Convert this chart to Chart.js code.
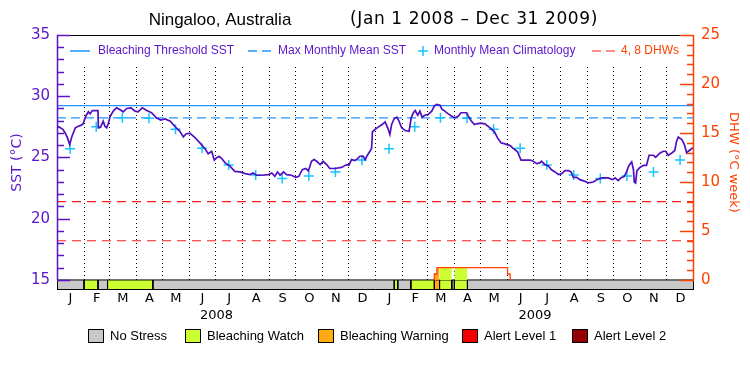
<!DOCTYPE html>
<html>
<head>
<meta charset="utf-8">
<script src="https://cdn.jsdelivr.net/npm/chart.js@4.4.0/dist/chart.umd.min.js"></script>
<style>
  html, body { margin: 0; padding: 0; background: #fff; }
  #wrap { width: 750px; height: 375px; }
</style>
</head>
<body>
<div id="wrap"><canvas id="sstChart" width="750" height="375"></canvas></div>
<script>
// values (x = days since Jan 1 2008)
var monthLetters = ['J', 'F', 'M', 'A', 'M', 'J', 'J', 'A', 'S', 'O', 'N', 'D'];
var monthStarts = [0, 31, 60, 91, 121, 152, 182, 213, 244, 274, 305, 335,
                   366, 397, 425, 456, 486, 517, 547, 578, 609, 639, 670, 700, 731];
var yearLabels = ['2008', '2009'];
var yearMid = [183, 548.5];

var sstDays = [0, 2, 7, 10, 12, 14.5, 17, 21, 24.5, 28, 30, 33, 36, 38, 40.5, 47, 47.5, 50, 53, 55,
  57, 59, 61, 65, 68.5, 72, 76, 80, 85, 89.5, 93, 98, 103, 108.5, 114, 119, 124, 130, 135, 141,
  145, 148, 152.5, 158, 164, 170, 173.5, 177.5, 180.5, 183, 186, 189, 193, 198.5, 204, 210, 216, 221.5, 225, 229,
  235, 242.5, 246.5, 250, 253, 256, 260, 263.5, 269, 274, 277.5, 281.5, 285.5, 288.5, 292, 295, 298, 302, 305.5, 309.5,
  313, 319, 326.5, 332.5, 335, 338, 342, 345, 347.5, 351.5, 353.5, 355.5, 358, 361, 362, 365, 369, 373, 376.5, 379.5,
  382, 384, 387, 390, 392.5, 395.5, 399.5, 404, 406.5, 409, 411, 414, 416.5, 419, 422, 426, 430, 433, 435.5, 439.5,
  441.5, 445, 449, 453, 456.5, 460.5, 463.5, 470, 472, 475, 479, 481.5, 486.5, 491, 497, 502, 505.5, 509.5, 514, 520,
  523.5, 528.5, 532.5, 537, 543, 546.5, 550.5, 554, 556, 560, 564, 567.5, 571.5, 575.5, 579, 583, 587, 590, 592.5, 596.5,
  600, 606, 609.5, 615.5, 619.5, 625, 632.5, 637.5, 640.5, 644, 647, 651, 653.5, 656.5, 659.5, 661.5, 662.5, 664, 665.5, 669,
  673, 676.5, 679.5, 684.5, 687, 692, 696, 698.5, 701.5, 705.5, 709, 711, 713, 717, 720, 722.5, 724.5, 728.5, 730.5];
var sstValues = [27.42, 27.50, 27.28, 26.92, 26.60, 26.06, 26.70, 27.42, 27.55, 27.64, 27.75, 28.37, 28.73, 28.56, 28.83, 28.83, 27.42, 27.47, 27.97, 27.55,
  27.42, 27.80, 28.37, 28.83, 29.05, 28.92, 28.73, 29.00, 29.05, 28.78, 28.73, 29.05, 28.83, 28.65, 28.24, 28.05, 28.15, 27.97, 27.55, 27.14,
  26.68, 26.92, 26.99, 26.65, 26.19, 25.70, 25.30, 25.50, 24.79, 24.97, 25.10, 24.91, 24.56, 24.29, 23.87, 23.82, 23.68, 23.60, 23.73, 23.55,
  23.55, 23.60, 23.73, 23.46, 23.82, 23.55, 23.82, 23.60, 23.55, 23.38, 23.46, 24.00, 24.10, 23.90, 24.69, 24.83, 24.69, 24.42, 24.69, 24.42,
  24.10, 24.10, 24.19, 24.42, 24.37, 24.83, 24.75, 24.91, 25.10, 25.10, 24.83, 25.10, 25.38, 25.73, 27.10, 27.30, 27.50, 27.69, 27.90, 27.42,
  26.87, 27.69, 28.18, 28.29, 27.97, 27.42, 27.20, 27.14, 28.24, 28.65, 28.83, 28.45, 28.78, 28.29, 28.45, 28.51, 28.78, 29.19, 29.33, 29.27,
  28.97, 28.78, 28.56, 28.37, 28.24, 28.37, 28.65, 28.65, 28.37, 28.02, 27.69, 27.75, 27.80, 27.75, 27.42, 27.10, 26.60, 26.20, 26.11, 25.97,
  25.75, 25.47, 24.79, 24.79, 24.79, 24.70, 24.50, 24.56, 24.69, 24.42, 24.29, 24.00, 23.82, 23.60, 23.68, 23.93, 23.93, 23.82, 23.38, 23.38,
  23.19, 23.05, 22.92, 23.00, 23.19, 23.33, 23.33, 23.19, 23.33, 23.11, 23.33, 23.46, 23.82, 24.37, 24.64, 24.00, 22.99, 22.92, 23.93, 24.19,
  24.36, 24.36, 25.18, 25.18, 25.02, 25.37, 25.51, 25.51, 25.18, 25.37, 25.57, 26.33, 26.66, 26.47, 26.06, 25.37, 25.51, 25.73, 25.78];

var climDays = [15, 45, 75, 105.5, 136, 166.5, 197, 228, 258.5, 289, 319.5, 350,
                381, 410.5, 440, 470.5, 501, 531.5, 562, 593, 623.5, 654, 684.5, 715];
var climValues = [25.72, 27.50, 28.24, 28.20, 27.30, 25.75, 24.39, 23.57, 23.29, 23.49, 23.82, 24.80,
                  25.72, 27.50, 28.24, 28.20, 27.30, 25.75, 24.39, 23.57, 23.29, 23.49, 23.82, 24.80];

var bleachingThreshold = 29.24;
var maxMonthlyMean = 28.24;
var dhwLevels = [4, 8];

var stressNames = ['No Stress', 'Bleaching Watch', 'Bleaching Warning', 'Alert Level 1', 'Alert Level 2'];
var stressStart = [0, 31, 47, 58, 110, 387, 391, 406, 433, 439, 453, 456, 471];
var stressEnd   = [31, 47, 58, 110, 387, 391, 406, 433, 439, 453, 456, 471, 731];
var stressLevel = [0, 1, 0, 1, 0, 1, 0, 1, 2, 1, 0, 1, 0];

var dhwDays = [432, 433, 436, 517, 520];
var dhwValues = [0, 0.61, 1.26, 0.61, 0];
var dhwFillStart = [433, 436, 439, 456];
var dhwFillEnd   = [436, 439, 453, 471];
var dhwFillValue = [0.61, 1.26, 1.26, 1.26];
var dhwFillLevel = [2, 2, 1, 1];

// SST 15 sits on DHW 0, SST 35 on DHW 25; the stress bar lives below SST 15
var sstMin = 14.18, sstMax = 35;
var dhwMin = (sstMin - 15) / 0.8, dhwMax = 25;

var stressColors = ['#c8c8c8', '#ccff33', '#ffaa11', '#f00000', '#960000'];
var purple = '#5a14cc';
var dhwColor = '#ff4000';
var blue = '#1e96ff';
var numFont = '"DejaVu Sans", sans-serif';
var txtFont = '"Liberation Sans", Arial, sans-serif';

function pts(xs, ys) {
  return xs.map(function (x, i) { return {x: x, y: ys[i]}; });
}
function flat(v) {
  return [{x: 0, y: v}, {x: 731, y: v}];
}

var datasets = [
  {data: pts(sstDays, sstValues), borderColor: '#5010c0', borderWidth: 1.7, pointRadius: 0, order: 0, yAxisID: 'y'},
  {data: pts(climDays, climValues), showLine: false, pointStyle: 'cross', pointRadius: 5,
   borderColor: '#16c4ff', borderWidth: 1.5, order: 1, yAxisID: 'y'},
  {data: flat(bleachingThreshold), borderColor: blue, borderWidth: 1.3, pointRadius: 0, order: 2, yAxisID: 'y'},
  {data: flat(maxMonthlyMean), borderColor: blue, borderWidth: 1.3, borderDash: [9, 5], pointRadius: 0, order: 2, yAxisID: 'y'}
];
dhwLevels.forEach(function (v) {
  datasets.push({data: flat(v), borderColor: '#ff1a1a', borderWidth: 1.2, borderDash: [9, 6], pointRadius: 0, order: 2, yAxisID: 'y2'});
});
datasets.push({data: pts(dhwDays, dhwValues), stepped: 'before', borderColor: dhwColor, borderWidth: 1.3,
  pointRadius: 0, order: 3, yAxisID: 'y2'});
dhwFillStart.forEach(function (s, i) {
  var e = dhwFillEnd[i], v = dhwFillValue[i];
  datasets.push({data: [{x: s, y: 0}, {x: s, y: v}, {x: e, y: v}, {x: e, y: 0}], borderWidth: 0,
    backgroundColor: stressColors[dhwFillLevel[i]], fill: 'origin', pointRadius: 0, order: 4, yAxisID: 'y2'});
});
stressStart.forEach(function (s, i) {
  var e = stressEnd[i];
  datasets.push({data: [{x: s, y: sstMin}, {x: s, y: 15}, {x: e, y: 15}, {x: e, y: sstMin}],
    borderColor: '#000', borderWidth: 1, backgroundColor: stressColors[stressLevel[i]],
    fill: 'start', pointRadius: 0, order: 5, yAxisID: 'y'});
});

var framePlugin = {
  id: 'frame',
  beforeDatasetsDraw: function (chart) {
    // keep the month grid out of the legend strip
    var ca = chart.chartArea, ctx = chart.ctx;
    ctx.save();
    ctx.fillStyle = '#fff';
    ctx.fillRect(ca.left + 1, ca.top + 1, ca.width - 2, 29);
    ctx.restore();
  },
  afterDraw: function (chart) {
    var ca = chart.chartArea, ctx = chart.ctx;
    var ys = chart.scales.y, y2 = chart.scales.y2;
    var barTop = ys.getPixelForValue(15);
    var v, p, len;
    ctx.save();

    // title
    ctx.fillStyle = '#000';
    ctx.font = '17px ' + txtFont;
    ctx.textAlign = 'center';
    ctx.textBaseline = 'middle';
    ctx.fillText('Ningaloo, Australia', 220, 20);
    ctx.font = '17px ' + numFont;
    ctx.letterSpacing = '0.6px';
    ctx.fillText('(Jan 1 2008 \u2013 Dec 31 2009)', 474, 20);
    ctx.letterSpacing = '0px';

    // box
    ctx.strokeStyle = '#000';
    ctx.lineWidth = 1;
    ctx.beginPath();
    ctx.moveTo(ca.left, ca.top + 0.5); ctx.lineTo(ca.right, ca.top + 0.5);
    ctx.moveTo(ca.left, ca.bottom - 0.5); ctx.lineTo(ca.right, ca.bottom - 0.5);
    ctx.moveTo(ca.left + 0.5, barTop); ctx.lineTo(ca.left + 0.5, ca.bottom);
    ctx.moveTo(ca.right - 0.5, barTop); ctx.lineTo(ca.right - 0.5, ca.bottom);
    ctx.stroke();

    // left SST axis with inward ticks
    ctx.strokeStyle = purple;
    ctx.lineWidth = 1.5;
    ctx.beginPath();
    ctx.moveTo(ca.left + 0.5, ca.top); ctx.lineTo(ca.left + 0.5, barTop);
    for (v = 15; v <= 35; v++) {
      p = Math.round(ys.getPixelForValue(v)) + 0.5;
      len = v % 5 === 0 ? 13 : 7;
      ctx.moveTo(ca.left, p); ctx.lineTo(ca.left + len, p);
    }
    ctx.stroke();

    // right DHW axis
    ctx.strokeStyle = dhwColor;
    ctx.beginPath();
    ctx.moveTo(ca.right - 0.5, ca.top); ctx.lineTo(ca.right - 0.5, barTop);
    for (v = 0; v <= 25; v++) {
      p = Math.round(y2.getPixelForValue(v)) + 0.5;
      len = v % 5 === 0 ? 14 : 7;
      ctx.moveTo(ca.right, p); ctx.lineTo(ca.right - len, p);
    }
    ctx.stroke();

    // top legend
    var ly = ca.top + 16;
    ctx.font = '12px ' + txtFont;
    ctx.textAlign = 'left';
    ctx.textBaseline = 'middle';
    ctx.lineWidth = 1.3;
    ctx.strokeStyle = blue;
    ctx.beginPath();
    ctx.moveTo(70, ly); ctx.lineTo(90, ly);
    ctx.moveTo(248, ly); ctx.lineTo(257, ly);
    ctx.moveTo(262, ly); ctx.lineTo(271, ly);
    ctx.stroke();
    ctx.strokeStyle = '#16c4ff';
    ctx.lineWidth = 1.5;
    ctx.beginPath();
    ctx.moveTo(418, ly); ctx.lineTo(428, ly);
    ctx.moveTo(423, ly - 5); ctx.lineTo(423, ly + 5);
    ctx.stroke();
    ctx.strokeStyle = '#ff1a1a';
    ctx.lineWidth = 1.2;
    ctx.beginPath();
    ctx.moveTo(592, ly); ctx.lineTo(601, ly);
    ctx.moveTo(606, ly); ctx.lineTo(615, ly);
    ctx.stroke();
    ctx.fillStyle = purple;
    ctx.fillText('Bleaching Threshold SST', 98, ly);
    ctx.fillText('Max Monthly Mean SST', 278, ly);
    ctx.fillText('Monthly Mean Climatology', 434, ly);
    ctx.fillStyle = dhwColor;
    ctx.fillText('4, 8 DHWs', 621, ly);

    // bottom legend
    var bx = [88, 185, 318, 462, 572];
    ctx.font = '13px ' + txtFont;
    ctx.lineWidth = 1;
    ctx.strokeStyle = '#000';
    stressNames.forEach(function (name, i) {
      ctx.fillStyle = stressColors[i];
      ctx.fillRect(bx[i], 329, 16, 14);
      ctx.strokeRect(bx[i] + 0.5, 329.5, 15, 13);
      ctx.fillStyle = '#000';
      ctx.fillText(name, bx[i] + 22, 336);
    });
    ctx.restore();
  }
};

var ctx = document.getElementById('sstChart').getContext('2d');
new Chart(ctx, {
  type: 'line',
  data: {datasets: datasets},
  options: {
    responsive: false,
    animation: false,
    devicePixelRatio: 1,
    elements: {line: {tension: 0}},
    layout: {padding: {top: 35, bottom: 51, left: 0, right: 0}},
    plugins: {legend: {display: false}, tooltip: {enabled: false}, title: {display: false}},
    scales: {
      x: {
        type: 'linear', position: 'bottom', min: 0, max: 731, weight: 0,
        afterBuildTicks: function (s) {
          s.ticks = monthStarts.slice(0, 24).map(function (d, i) {
            return {value: (d + monthStarts[i + 1]) / 2};
          });
        },
        afterFit: function (s) { s.height = 17; },
        ticks: {
          autoSkip: false, maxRotation: 0, padding: 1, color: '#000',
          font: {family: numFont, size: 13},
          callback: function (v, i) { return monthLetters[i % 12]; }
        },
        grid: {display: false, drawTicks: false},
        border: {display: false}
      },
      xy: {
        type: 'linear', position: 'bottom', min: 0, max: 731, weight: 1,
        afterBuildTicks: function (s) {
          s.ticks = yearMid.map(function (d) { return {value: d}; });
        },
        afterFit: function (s) { s.height = 17; },
        ticks: {
          autoSkip: false, maxRotation: 0, padding: 1, color: '#000',
          font: {family: numFont, size: 13},
          callback: function (v, i) { return yearLabels[i]; }
        },
        grid: {display: false, drawTicks: false},
        border: {display: false}
      },
      xg: {
        type: 'linear', position: 'bottom', min: 0, max: 731, weight: 2,
        afterBuildTicks: function (s) {
          s.ticks = monthStarts.slice(1, 24).map(function (d) { return {value: d}; });
        },
        afterFit: function (s) { s.height = 0; },
        ticks: {display: false},
        grid: {display: true, drawTicks: false, color: '#000', lineWidth: 1},
        border: {display: false, dash: [1, 3]}
      },
      y: {
        type: 'linear', position: 'left', min: sstMin, max: sstMax,
        afterBuildTicks: function (s) {
          s.ticks = [15, 20, 25, 30, 35].map(function (v) { return {value: v}; });
        },
        afterFit: function (s) { s.width = 57; },
        ticks: {color: purple, padding: 7, font: {family: numFont, size: 15}},
        grid: {display: false, drawTicks: false},
        border: {display: false},
        title: {display: true, text: 'SST (\u00b0C)', color: purple, padding: {top: 9, bottom: 0},
                font: {family: numFont, size: 14}}
      },
      y2: {
        type: 'linear', position: 'right', min: dhwMin, max: dhwMax,
        afterBuildTicks: function (s) {
          s.ticks = [0, 5, 10, 15, 20, 25].map(function (v) { return {value: v}; });
        },
        afterFit: function (s) { s.width = 56; },
        ticks: {color: dhwColor, padding: 7, font: {family: numFont, size: 15}},
        grid: {display: false, drawTicks: false},
        border: {display: false},
        title: {display: true, text: 'DHW (\u00b0C week)', color: dhwColor, padding: {top: 9, bottom: 0},
                font: {family: numFont, size: 13}}
      }
    }
  },
  plugins: [framePlugin]
});
</script>
</body>
</html>
